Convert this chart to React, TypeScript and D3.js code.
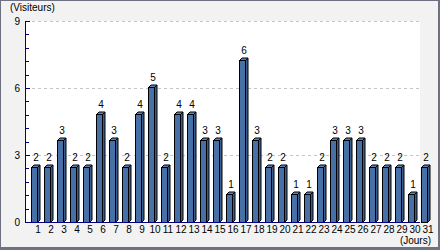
import React from 'react';
import * as d3 from 'd3';

const days = ['1','2','3','4','5','6','7','8','9','10','11','12','13','14','15','16','17','18','19','20','21','22','23','24','25','26','27','28','29','30','31'];
const visitors = [2,2,3,2,2,4,3,2,4,5,2,4,4,3,3,1,6,3,2,2,1,1,2,3,3,3,2,2,2,1,2];
const yTicks = [0,3,6,9];
const yMinorTicks = [0.6,1.2,1.8,2.4,3.6,4.2,4.8,5.4,6.6,7.2,7.8,8.4];
const yTitle = '(Visiteurs)';
const xTitle = '(Jours)';

const W = 440, H = 250;
const left = 26, right = 420, top = 21, bottom = 222;
const FONT = '"Liberation Sans Narrow", "Liberation Sans", Arial, sans-serif';
const FONT2 = '"Liberation Sans", Arial, sans-serif';

export default function App() {
  const x = d3.scaleBand<string>().domain(days).range([left, left + 13 * days.length]).paddingInner(0).paddingOuter(0);
  const yAxis = d3.scaleLinear().domain([0, 9]).range([bottom, top]);
  const yBar = d3.scaleLinear().domain([0, 7.5]).range([220.3, 20.4]);
  const bw = 6, d = 2.5;
  return (
    <svg width={W} height={H} style={{ position: 'absolute', left: 0, top: 0, display: 'block' }}>
      <rect x={0} y={0} width={W} height={H} fill="#6d7181" />
      <rect x={1} y={1} width={W - 3} height={H - 4} fill="#f2f2f2" />
      <rect x={left} y={top} width={right - left} height={bottom - top} fill="#ffffff" />
      {yTicks.filter(t => t > 0).map(t => (
        <line key={'g' + t} x1={left} x2={right} y1={Math.round(yAxis(t)) + 0.5} y2={Math.round(yAxis(t)) + 0.5}
          stroke="#c4c4c4" strokeDasharray="3,3" />
      ))}
      {visitors.map((v, i) => {
        const fx = (x(days[i]) as number) + 5 + 0.5;
        const ty = Math.round(yBar(v)) + 0.5;
        const by = bottom + 0.5;
        return (
          <g key={'b' + i} stroke="#000" strokeWidth={1} strokeLinejoin="miter">
            <polygon points={`${fx + bw},${ty} ${fx + bw + d},${ty - d} ${fx + bw + d},${by - d} ${fx + bw},${by}`} fill="#3a5d8c" />
            <polygon points={`${fx},${ty} ${fx + d},${ty - d} ${fx + bw + d},${ty - d} ${fx + bw},${ty}`} fill="#5c84b8" />
            <rect x={fx} y={ty} width={bw} height={by - ty} fill="#4670a6" />
          </g>
        );
      })}
      {visitors.map((v, i) => (
        <text key={'v' + i} x={(x(days[i]) as number) + 10} y={Math.round(yBar(v)) - d - 4}
          textAnchor="middle" fontFamily={FONT2} fontSize={10} fill="#000">{v}</text>
      ))}
      <line x1={left - 0.5} x2={left - 0.5} y1={top} y2={bottom + 1} stroke="#000080" />
      <line x1={left - 1} x2={right} y1={bottom + 0.5} y2={bottom + 0.5} stroke="#000080" />
      {yTicks.map(t => (
        <g key={'t' + t}>
          <line x1={left - 1} x2={left + 4} y1={Math.round(yAxis(t)) + 0.5} y2={Math.round(yAxis(t)) + 0.5} stroke="#000080" />
          <text x={20} y={yAxis(t) + 3.6} textAnchor="end" fontFamily={FONT2} fontSize={10} fill="#000">{t}</text>
        </g>
      ))}
      {yMinorTicks.map(t => (
        <line key={'m' + t} x1={left} x2={left + 3} y1={Math.round(yAxis(t)) + 0.5} y2={Math.round(yAxis(t)) + 0.5} stroke="#000080" />
      ))}
      {days.map(dd => (
        <text key={'x' + dd} x={(x(dd) as number) + 12} y={233} textAnchor="middle" fontFamily={FONT2} fontSize={10} fill="#000">{dd}</text>
      ))}
      <text x={10} y={10.5} fontFamily={FONT} fontSize={10} fill="#000">{yTitle}</text>
      <text x={431} y={244} textAnchor="end" fontFamily={FONT} fontSize={10} fill="#000">{xTitle}</text>
    </svg>
  );
}
